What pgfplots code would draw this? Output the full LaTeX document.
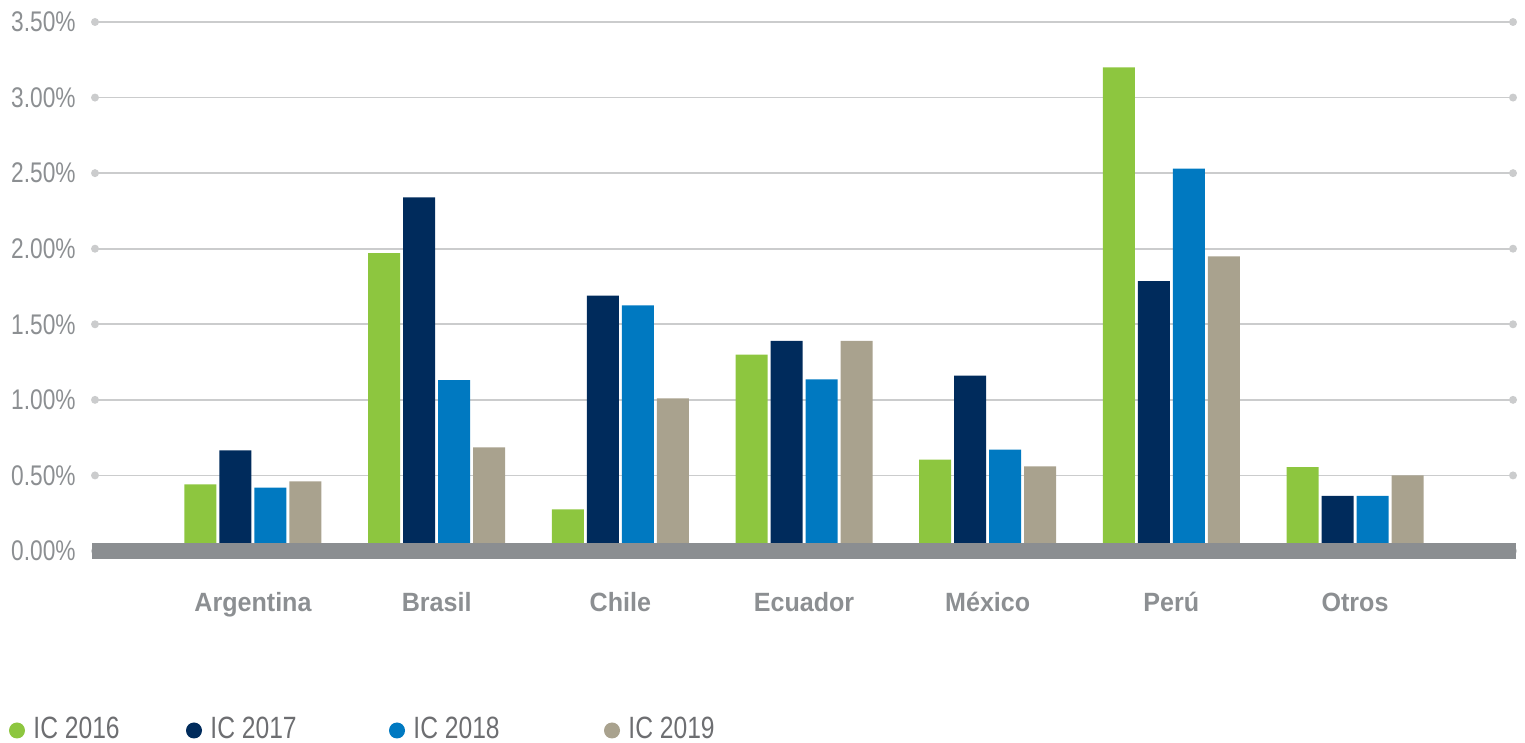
\documentclass[border=0pt]{standalone}
\usepackage{fontspec}
\setmainfont{Liberation Sans}[FakeStretch=0.8]
\newfontfamily\catfont{Liberation Sans}[FakeStretch=0.95]
\usepackage{pgfplots}
\pgfplotsset{compat=1.18}
\definecolor{cgreen}{HTML}{8DC63F}
\definecolor{cnavy}{HTML}{002B5C}
\definecolor{cblue}{HTML}{0079C1}
\definecolor{ctan}{HTML}{A9A28E}
\definecolor{gridgray}{HTML}{CBCCCD}
\definecolor{bandgray}{HTML}{8B8E91}
\definecolor{ticktext}{HTML}{8C8F92}
\definecolor{legtext}{HTML}{6D6E71}
\begin{document}
\begin{tikzpicture}
\useasboundingbox (0,0) rectangle (762.5pt,371.5pt);
\begin{axis}[
  at={(47.5pt,96pt)}, anchor=south west,
  scale only axis, width=709pt, height=264.5pt,
  xmin=-0.86, xmax=6.86, ymin=0, ymax=3.5,
  clip=false,
  axis line style={draw=none},
  major tick style={draw=none},
  ytick={0,0.5,1,1.5,2,2.5,3,3.5},
  ymajorgrids,
  grid style={color=gridgray, line width=0.9pt},
  yticklabel={\pgfmathprintnumber[fixed,fixed zerofill,precision=2,assume math mode=true]{\tick}\%},
  yticklabel style={font=\fontsize{14.2}{15}\selectfont, color=ticktext, anchor=east, inner sep=0pt, xshift=-9.5pt},
  xtick={0,1,2,3,4,5,6},
  xticklabels={Argentina,Brasil,Chile,Ecuador,México,Perú,Otros},
  xticklabel style={font=\catfont\bfseries\fontsize{13.2}{14}\selectfont, color=ticktext, anchor=base, inner sep=0pt, yshift=-26pt},
  ybar=1.5pt, bar width=16pt,
]
\pgfplotsinvokeforeach{0,0.5,1,1.5,2,2.5,3,3.5}{
  \fill[gridgray] (axis cs:-0.86,#1) circle[radius=2pt];
  \fill[gridgray] (axis cs:6.86,#1) circle[radius=2pt];
}
\addplot[fill=cgreen, draw=none] coordinates {(0,0.44) (1,1.97) (2,0.275) (3,1.30) (4,0.605) (5,3.20) (6,0.555)};
\addplot[fill=cnavy, draw=none] coordinates {(0,0.665) (1,2.34) (2,1.69) (3,1.39) (4,1.16) (5,1.785) (6,0.365)};
\addplot[fill=cblue, draw=none] coordinates {(0,0.42) (1,1.13) (2,1.625) (3,1.135) (4,0.67) (5,2.53) (6,0.365)};
\addplot[fill=ctan, draw=none] coordinates {(0,0.46) (1,0.685) (2,1.01) (3,1.39) (4,0.56) (5,1.95) (6,0.50)};
\draw[line width=8pt, color=bandgray] (axis cs:-0.875,0) -- (axis cs:6.875,0);
\end{axis}
% legend
\foreach \x/\c/\t in {8.5/cgreen/IC 2016, 97/cnavy/IC 2017, 198.5/cblue/IC 2018, 306/ctan/IC 2019}{
  \fill[\c] (\x pt,6.25pt) circle[radius=4pt];
  \node[anchor=base west, inner sep=0pt, text=legtext, font=\fontsize{15.4}{16}\selectfont] at (\x pt+8pt,2pt) {\t};
}
\end{tikzpicture}
\end{document}
